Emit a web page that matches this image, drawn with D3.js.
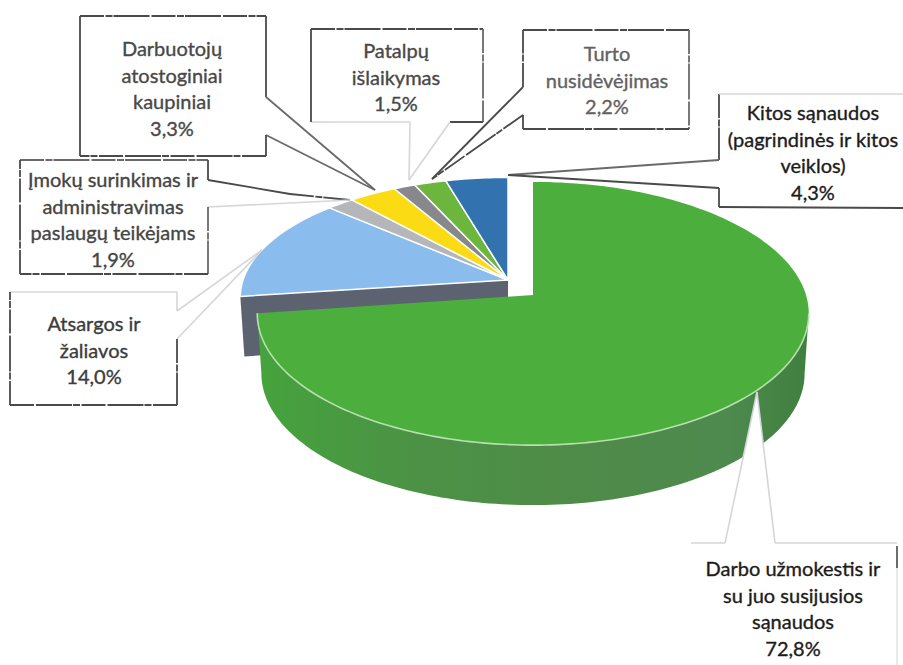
<!DOCTYPE html>
<html>
<head>
<meta charset="utf-8">
<title>Sąnaudos</title>
<script src="https://d3js.org/d3.v7.min.js"></script>
<style>
html, body {
	margin: 0;
	padding: 0;
	background-color: white;
}
svg {
	display: block;
}
.label {
	font-family: Lato, "Open Sans", sans-serif;
	font-size: 20px;
	text-anchor: middle;
	dominant-baseline: central;
	stroke-width: 0.35px;
}
</style>
</head>
<body>
<div id="graph"></div>
<script>
/* globals d3 */
const sliceNames = ["Darbo užmokestis", "Atsargos", "Įmokų surinkimas", "Atostoginiai", "Patalpos", "Nusidėvėjimas", "Kitos"];
const sliceValues = [72.8, 14.0, 1.9, 3.3, 1.5, 2.2, 4.3];
const sliceColors = ["#4cae3c", "#8abcee", "#b4b6ba", "#fbdc14", "#88888c", "#6cb63e", "#3272ae"];
const labelLines = [
	["Darbo užmokestis ir", "su juo susijusios", "sąnaudos"],
	["Atsargos ir", "žaliavos"],
	["Įmokų surinkimas ir", "administravimas", "paslaugų teikėjams"],
	["Darbuotojų", "atostoginiai", "kaupiniai"],
	["Patalpų", "išlaikymas"],
	["Turto", "nusidėvėjimas"],
	["Kitos sąnaudos", "(pagrindinės ir kitos", "veiklos)"]
];

const width = 903, height = 665;
const dark = "#4a4a4a", mid = "#6a6a6a", faint = "#d4d6da";
const broken = "24 1.5 7 1 36 2", none = null;

// box outline per slice, one stroke per edge: [x, y, colour, dash] goes from this point to the next
const callouts = [
	{cx: 793, y: 568, color: "#1c1c1c", pts: [[691, 543, faint], [725, 543, faint], [757, 392, faint], [775, 543, faint], [897, 543, faint, none, "end"], [897, 665]]},
	{cx: 94, y: 323, color: "#3c3c3c", pts: [[10, 292, faint], [177, 292, faint], [177, 311, faint], [262, 250, faint], [177, 339, dark, broken], [177, 405, dark, broken], [10, 405, dark, broken], [10, 292, mid, broken]]},
	{cx: 113, y: 179, color: "#454545", pts: [[20, 160, mid, broken], [208, 160, dark, broken], [208, 180, dark], [290, 194, dark, broken], [350, 200, faint], [208, 207, mid, broken], [208, 274, dark, broken], [20, 274, dark, broken], [20, 160, dark]]},
	{cx: 172, y: 48, color: "#484848", pts: [[80, 16, dark, broken], [266, 16, dark], [266, 97, mid], [375, 190, mid], [266, 135, dark], [266, 156, dark, broken], [80, 156, dark], [80, 16, dark]]},
	{cx: 396, y: 50, color: "#484848", pts: [[311, 29, dark, broken], [483, 29, mid, broken], [483, 122, dark], [450, 122, faint], [409, 180, faint], [410, 122, faint], [330, 122, faint], [311, 122, dark], [311, 29, dark, broken]]},
	{cx: 607, y: 53, color: "#626262", pts: [[523, 30, dark, broken], [689, 30, mid, broken], [689, 129, dark, broken], [523, 129, dark, broken], [523, 115, dark, broken], [432, 179, dark], [523, 87, dark, broken], [523, 30, dark, broken]]},
	{cx: 813, y: 112, color: "#1c1c1c", pts: [[719, 94, dark, broken], [719, 160, mid], [508, 175, dark], [719, 188, dark], [719, 207, dark], [903, 208, none], [903, 94, faint], [719, 94]]}
];

// tilted disc seen in perspective, angle in radians clockwise from 12 o'clock
const persp = 0.1407;
const greenDisc = {cx: 533, cy: 295, rx: 273, ry: 129};
const restDisc = {cx: 508, cy: 280, rx: 265, ry: 117};
const depth = 60, depthScale = 0.985;

function project(disc, angle, down)
{
	const u = Math.sin(angle), v = Math.cos(angle);
	const w = 1 + persp * v;
	const s = down ? depthScale : 1;
	return [disc.cx + s * disc.rx * u / w, disc.cy - disc.ry * v / w + (down ? depth : 0)];
}
function arcPoints(disc, a0, a1, down)
{
	const n = Math.max(2, Math.ceil(Math.abs(a1 - a0) / 0.02));
	return d3.range(n + 1).map(i => project(disc, a0 + (a1 - a0) * i / n, down));
}
function apex(disc, down)
{
	return [disc.cx, disc.cy + (down ? depth : 0)];
}

const line = d3.line();
const color = d3.scaleOrdinal(sliceNames, sliceColors);
const slices = d3.pie().sort(null).value(d => d.value)(
	sliceNames.map((name, i) => ({name, value: sliceValues[i]})));

const svg = d3.select("#graph").append("svg")
	.attr("width", width)
	.attr("height", height);

const sideGrad = svg.append("defs").append("linearGradient")
	.attr("id", "side");
[["0", "#45a33c"], ["0.3", "#4c9146"], ["0.65", "#4f8a4a"], ["0.85", "#4e8a4e"], ["1", "#3f7f3f"]].forEach(([o, c]) =>
	sideGrad.append("stop").attr("offset", o).attr("stop-color", c));

// the other slices first, green lies on top of their dark cut face
const blue = slices[1];
svg.append("path")
	.attr("fill", "#5c6270")
	.attr("d", line([apex(restDisc), project(restDisc, blue.startAngle), project(restDisc, blue.startAngle, true), apex(restDisc, true)]) + "Z");

svg.selectAll(".slice")
	.data(slices.slice(1))
	.join("path")
	.attr("class", "slice")
	.attr("fill", d => color(d.data.name))
	.attr("stroke", "white")
	.attr("stroke-width", 1.5)
	.attr("stroke-linejoin", "round")
	.attr("d", d => line([apex(restDisc), ...arcPoints(restDisc, d.startAngle, d.endAngle)]) + "Z");

// green slice: side wall, then top
const green = slices[0];
const wallStart = Math.PI - Math.acos(persp);
svg.append("path")
	.attr("fill", "url(#side)")
	.attr("d", line([
		...arcPoints(greenDisc, wallStart, green.endAngle),
		...arcPoints(greenDisc, green.endAngle, wallStart, true)
	]) + "Z");
svg.append("path")
	.attr("fill", color(green.data.name))
	.attr("d", line([apex(greenDisc), ...arcPoints(greenDisc, green.startAngle, green.endAngle)]) + "Z");
svg.append("path")
	.attr("fill", "none")
	.attr("stroke", "#b6e0ae")
	.attr("stroke-width", 1.6)
	.attr("d", line(arcPoints(greenDisc, wallStart, green.endAngle)));

const boxes = svg.selectAll(".callout")
	.data(callouts)
	.join("g")
	.attr("class", "callout");
boxes.append("polygon")
	.attr("fill", "white")
	.attr("points", d => d.pts.map(p => p[0] + "," + p[1]).join(" "));
boxes.each(function(d) {
	const g = d3.select(this);
	d.pts.slice(0, -1).forEach((p, i) => {
		if (!p[2] || p[4] === "end") return;
		const q = d.pts[i + 1];
		g.append("line")
			.attr("x1", p[0]).attr("y1", p[1])
			.attr("x2", q[0]).attr("y2", q[1])
			.attr("stroke", p[2])
			.attr("stroke-width", p[2] === faint ? 1.6 : 1.8)
			.attr("stroke-dasharray", p[3]);
	});
});
// faint right side of the last box, with the dark scan mark at its top
svg.append("line")
	.attr("x1", 897).attr("y1", 560).attr("x2", 897).attr("y2", 665)
	.attr("stroke", faint);
svg.append("line")
	.attr("x1", 897).attr("y1", 546).attr("x2", 897).attr("y2", 568)
	.attr("stroke", dark).attr("stroke-width", 1.6);

boxes.each(function(d, i) {
	const lines = labelLines[i].concat(sliceValues[i].toFixed(1).replace(".", ",") + "%");
	d3.select(this).selectAll("text")
		.data(lines)
		.join("text")
		.attr("class", "label")
		.attr("x", d.cx)
		.attr("y", (t, k) => d.y + k * 26.6)
		.attr("fill", d.color)
		.attr("stroke", d.color)
		.text(t => t);
});
</script>
</body>
</html>
